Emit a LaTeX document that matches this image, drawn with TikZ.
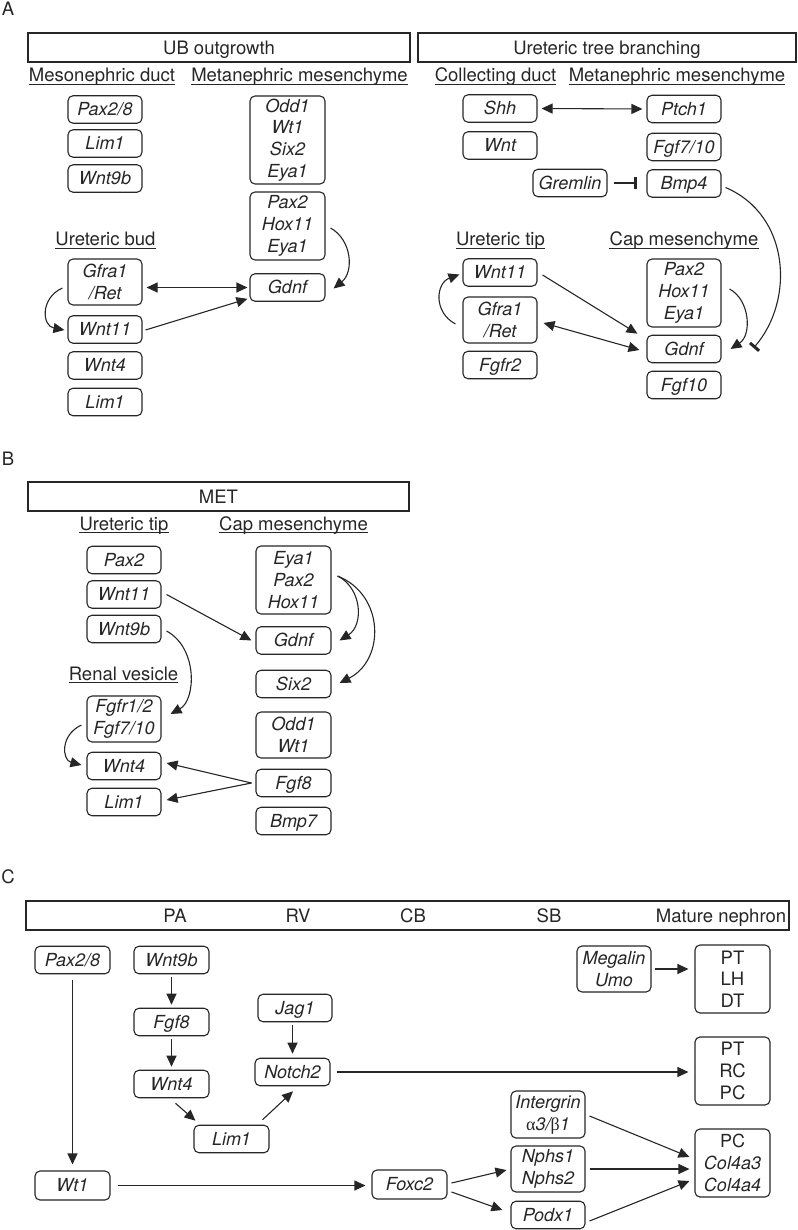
\documentclass[tikz,border=0pt]{standalone}
\usepackage{fontspec}
\setmainfont{TeX Gyre Heros}
\newfontfamily\grkfont{Liberation Serif}
\usetikzlibrary{arrows.meta,calc}
\definecolor{ink}{HTML}{262626}
\newcommand\genef{\fontsize{18}{21.7}\selectfont\itshape}
\newcommand\hdf{\fontsize{18.5}{22}\selectfont}
\newcommand\uprf{\fontsize{18.5}{21.7}\selectfont}
\begin{document}
\begin{tikzpicture}[x=1pt,y=-1pt,
  gene/.style={draw=ink, line width=1.1pt, rounded corners=5pt, inner sep=0pt, minimum width=74pt, minimum height=27.5pt, align=center, font=\genef, text=ink},
  sg/.style={gene, text height=12.9pt, text depth=0pt},
  hd/.style={font=\hdf, text=ink, inner sep=0pt, anchor=base},
  frame/.style={draw=ink, line width=1.2pt, inner sep=0pt, font=\hdf, text=ink, text height=13.3pt, text depth=0pt, minimum height=29pt},
  ul/.style={draw=ink, line width=0.9pt},
  arr/.style={draw=ink, line width=1.1pt, -{Triangle[length=11pt,width=10pt]}},
  darr/.style={draw=ink, line width=1.1pt, {Triangle[length=11pt,width=10pt]}-{Triangle[length=11pt,width=10pt]}},
  inh/.style={draw=ink, line width=1.1pt, -{Bar[width=12pt,line width=3pt]}},
]
\useasboundingbox (0,0) rectangle (797,1230);

% panel letters
\node[hd] (lA) at (8,16) {A};
\node[hd] (lB) at (8,465) {B};
\node[hd] (lC) at (8,883) {C};

% ===== Panel A =====
\node[frame, minimum width=382pt] (fUB) at (219,47.5) {UB outgrowth};
\node[frame, minimum width=378pt] (fUT) at (607,47.5) {Ureteric tree branching};

\node[hd] (hMD) at (102,82) {Mesonephric duct};
\node[hd] (hMM1) at (299.5,82) {Metanephric mesenchyme};
\node[hd] (hUB) at (105.5,246) {Ureteric bud};
\node[hd] (hCD) at (495.5,82) {Collecting duct};
\node[hd] (hMM2) at (677,82) {Metanephric mesenchyme};
\node[hd] (hUT1) at (500.5,246) {Ureteric tip};
\node[hd] (hCM1) at (684,246) {Cap mesenchyme};

\node[sg] (a1) at (105,109.5) {Pax2/8};
\node[sg] (a2) at (105,143.5) {Lim1};
\node[sg] (a3) at (105,178.5) {Wnt9b};
\node[gene, minimum width=75pt, minimum height=88pt] (a4) at (287.5,140) {Odd1\\Wt1\\Six2\\Eya1};
\node[gene, minimum width=75pt, minimum height=68pt] (a5) at (287.5,226) {Pax2\\Hox11\\Eya1};
\node[sg, minimum width=75pt] (a6) at (287.5,287.5) {Gdnf};
\node[gene, minimum height=46pt] (a7) at (105,282) {Gfra1\\/Ret};
\node[sg] (a8) at (105,329.5) {Wnt11};
\node[sg] (a9) at (105,365.5) {Wnt4};
\node[sg] (a10) at (105,402) {Lim1};

\node[sg] (r1) at (500,108.5) {Shh};
\node[sg] (r2) at (500,145.5) {Wnt};
\node[sg] (r3) at (684,109) {Ptch1};
\node[sg] (r4) at (684,147) {Fgf7/10};
\node[sg] (r5) at (684,183.5) {Bmp4};
\node[sg] (r6) at (570,183) {Gremlin};
\node[sg] (r7) at (500,272.5) {Wnt11};
\node[gene, minimum height=46pt] (r8) at (500,320) {Gfra1\\/Ret};
\node[sg] (r9) at (500,365) {Fgfr2};
\node[gene, minimum height=68pt] (r10) at (684,293) {Pax2\\Hox11\\Eya1};
\node[sg] (r11) at (684,349) {Gdnf};
\node[sg] (r12) at (684,385) {Fgf10};

\draw[darr, shorten <=4pt, shorten >=2pt] (a7.east |- a6.west) -- (a6.west);
\draw[arr] ($(a8.east)+(3,0.5)$) -- ($(a6.south west)+(-2,-3)$);
\draw[arr] ($(a7.west)+(-5,6)$) .. controls (40,298) and (42,326) .. ($(a8.west)+(-3,0.5)$);
\draw[arr] ($(a5.east)+(5,2)$) .. controls (352,240) and (354,272) .. ($(a6.east)+(8,1)$);

\draw[darr, shorten <=4pt, shorten >=4pt] (r1.east) -- (r3.west);
\draw[inh, shorten <=6pt, shorten >=9pt] (r6.east) -- (r6.east -| r5.west);
\draw[arr] ($(r7.east)+(5,2.5)$) -- ($(r11.north west)+(-9,-1)$);
\draw[darr] ($(r8.east)+(6,3)$) -- ($(r11.west)+(-7,1)$);
\draw[arr] ($(r8.west)+(-7,4)$) .. controls (433,312) and (436,283) .. ($(r7.west)+(-3,2)$);
\draw[arr] ($(r10.east)+(8,-4)$) .. controls (750,300) and (752,335) .. ($(r11.east)+(9,0)$);
\draw[inh] ($(r5.east)+(4,4)$) .. controls (790,215) and (795,300) .. ($(r11.east)+(32,-1)$);

% ===== Panel B =====
\node[frame, minimum width=381pt] (fMET) at (218.5,496.5) {MET};
\node[hd] (hUT2) at (124,530) {Ureteric tip};
\node[hd] (hCM2) at (293.5,530) {Cap mesenchyme};
\node[hd] (hRV) at (123.5,680) {Renal vesicle};

\node[sg] (b1) at (124,560) {Pax2};
\node[sg] (b2) at (124,594.5) {Wnt11};
\node[sg] (b3) at (124,629) {Wnt9b};
\node[gene, minimum width=75pt, minimum height=68pt] (b4) at (293.5,580) {Eya1\\Pax2\\Hox11};
\node[sg, minimum width=75pt] (b5) at (293.5,640.5) {Gdnf};
\node[sg, minimum width=75pt] (b6) at (293.5,684) {Six2};
\node[gene, minimum width=75pt, minimum height=46pt] (b7) at (293.5,735) {Odd1\\Wt1};
\node[sg, minimum width=75pt] (b8) at (293.5,783) {Fgf8};
\node[sg, minimum width=75pt] (b9) at (293.5,821) {Bmp7};
\node[gene, minimum height=46pt] (b10) at (124,719) {Fgfr1/2\\Fgf7/10};
\node[sg] (b11) at (124,766) {Wnt4};
\node[sg] (b12) at (124,802) {Lim1};

\draw[arr] ($(b2.east)+(5,0)$) -- ($(b5.west)+(-4,0)$);
\draw[arr] ($(b4.east)+(6,-4)$) .. controls (362,588) and (364,625) .. ($(b5.east)+(8,0)$);
\draw[arr] ($(b4.east)+(6,-4)$) .. controls (385,595) and (385,660) .. ($(b6.east)+(8,-1)$);
\draw[arr] ($(b3.east)+(5,2)$) .. controls (198,648) and (196,700) .. ($(b10.east)+(9,-5)$);
\draw[arr] ($(b10.west)+(-5,6)$) .. controls (60,735) and (62,760) .. ($(b11.west)+(-5,-1)$);
\draw[arr] ($(b8.west)+(-4,0)$) -- ($(b11.east)+(5,-3)$);
\draw[arr] ($(b8.west)+(-4,0)$) -- ($(b12.east)+(5,-2)$);

% ===== Panel C =====
\node[frame, minimum width=763pt] (fC) at (407.5,915.5) {};
\node[hd] (sPA) at (175,922) {PA};
\node[hd] (sRV) at (298,922) {RV};
\node[hd] (sCB) at (413,922) {CB};
\node[hd] (sSB) at (549,922) {SB};
\node[hd] (sMN) at (721,922) {Mature nephron};

\node[sg, minimum width=75pt] (c1) at (72.5,960) {Pax2/8};
\node[sg, minimum width=75pt] (c2) at (171.5,960) {Wnt9b};
\node[sg, minimum width=75pt] (c3) at (171.5,1022) {Fgf8};
\node[sg, minimum width=75pt] (c4) at (171.5,1084) {Wnt4};
\node[sg, minimum width=75pt] (c5) at (231.5,1139) {Lim1};
\node[sg] (c6) at (295,1008) {Jag1};
\node[sg, minimum width=75pt] (c7) at (292.5,1072) {Notch2};
\node[sg, minimum width=75pt, minimum height=29pt] (c8) at (72.5,1185.5) {Wt1};
\node[sg, minimum width=75pt, minimum height=29pt] (c9) at (409.5,1184.5) {Foxc2};
\node[gene, minimum height=46pt] (c10) at (614,969) {Megalin\\Umo};
\node[gene, minimum width=75pt, minimum height=68pt, font=\uprf] (c11) at (732.5,979) {PT\\LH\\DT};
\node[gene, minimum width=75pt, minimum height=68pt, font=\uprf] (c12) at (732.5,1071) {PT\\RC\\PC};
\node[gene, minimum height=47pt] (c13) at (548,1114.5) {Intergrin\\{\grkfont\upshape α}3/{\grkfont\upshape β}1};
\node[gene, minimum height=46pt] (c14) at (548,1169) {Nphs1\\Nphs2};
\node[sg] (c15) at (548,1215) {Podx1};
\node[gene, minimum width=75pt, minimum height=68pt] (c16) at (732.5,1163) {{\upshape PC}\\Col4a3\\Col4a4};

\draw[arr, shorten <=6pt, shorten >=6pt] (c1.south) -- (c8.north);
\draw[arr, shorten <=3pt, shorten >=3pt] (c2.south) -- (c3.north);
\draw[arr, shorten <=3pt, shorten >=3pt] (c3.south) -- (c4.north);
\draw[arr] ($(c4.south)+(4,5)$) -- ($(c5.north west)+(2,-4)$);
\draw[arr] ($(c5.north east)+(-7,-5)$) -- ($(c7.south)+(0.5,5)$);
\draw[arr, shorten <=3pt, shorten >=4pt] (c7.north |- c6.south) -- (c7.north);
\draw[arr, shorten <=6pt, shorten >=6pt] (c7.east) -- (c7.east -| c12.west);
\draw[arr, shorten <=3pt, shorten >=6pt] (c10.east) -- (c10.east -| c11.west);
\draw[arr, shorten <=7pt, shorten >=6pt] (c8.east) -- (c8.east -| c9.west);
\draw[arr] ($(c9.east)+(4,-1.5)$) -- ($(c14.west)+(-4,1)$);
\draw[arr] ($(c9.east)+(4,7.5)$) -- ($(c15.west)+(-8,-5)$);
\draw[arr] ($(c13.east)+(4,1.5)$) -- ($(c16.west)+(-5,-6)$);
\draw[arr, shorten <=4pt, shorten >=5pt] (c14.east) -- (c14.east -| c16.west);
\draw[arr] ($(c15.east)+(4,6)$) -- ($(c16.west)+(-5,18)$);

% underlines
\foreach \h in {hMD,hMM1,hUB,hCD,hMM2,hUT1,hCM1,hUT2,hCM2,hRV}
  \draw[ul] ([yshift=-2.5pt]\h.base west) -- ([yshift=-2.5pt]\h.base east);
\end{tikzpicture}
\end{document}
